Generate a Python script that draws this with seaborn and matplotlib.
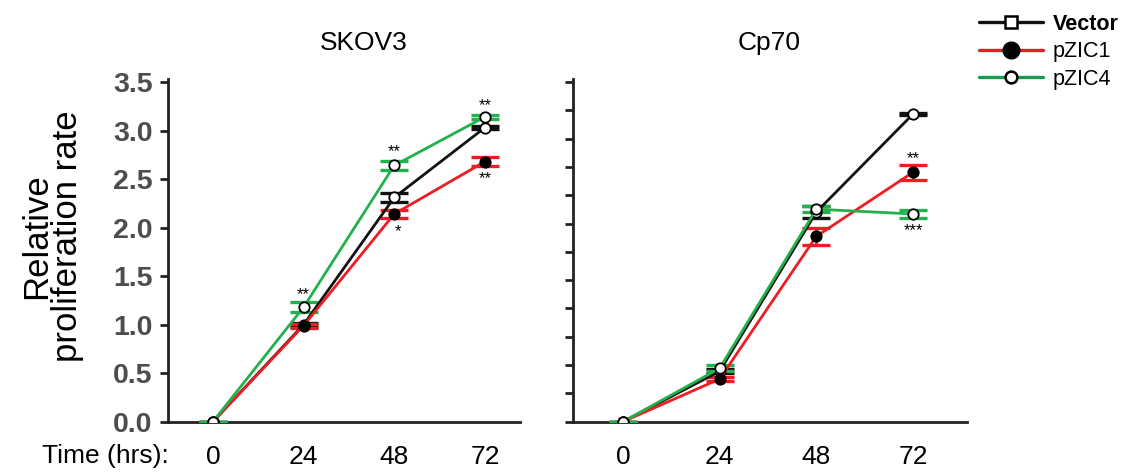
import numpy as np
import pandas as pd
import matplotlib
matplotlib.use("Agg")
import matplotlib.pyplot as plt
from matplotlib.lines import Line2D
import seaborn as sns

# ---------------- data ----------------
times = [0, 24, 48, 72]
groups = ["Vector", "pZIC1", "pZIC4"]
panels = ["SKOV3", "Cp70"]

skov3_vector = [0.0, 1.00, 2.31, 3.03]
skov3_pzic1 = [0.0, 0.99, 2.14, 2.68]
skov3_pzic4 = [0.0, 1.18, 2.64, 3.14]
skov3_vector_err = [0.0, 0.02, 0.05, 0.015]
skov3_pzic1_err = [0.0, 0.02, 0.04, 0.05]
skov3_pzic4_err = [0.0, 0.05, 0.05, 0.02]

cp70_vector = [0.0, 0.52, 2.16, 3.17]
cp70_pzic1 = [0.0, 0.44, 1.91, 2.57]
cp70_pzic4 = [0.0, 0.55, 2.19, 2.14]
cp70_vector_err = [0.0, 0.02, 0.06, 0.01]
cp70_pzic1_err = [0.0, 0.02, 0.09, 0.075]
cp70_pzic4_err = [0.0, 0.03, 0.03, 0.045]

# significance marks: (panel, time, y position, text)
sig_panel = ["SKOV3", "SKOV3", "SKOV3", "SKOV3", "SKOV3", "Cp70", "Cp70"]
sig_time = [24, 48, 49, 72, 72, 72, 72]
sig_y = [1.31, 2.78, 1.96, 3.26, 2.50, 2.71, 1.97]
sig_text = ["**", "**", "*", "**", "**", "**", "***"]

yticks = [0.0, 0.5, 1.0, 1.5, 2.0, 2.5, 3.0, 3.5]
xtick_labels = ["0", "24", "48", "72"]

rows = []
for panel, vals, errs in [
    ("SKOV3", [skov3_vector, skov3_pzic1, skov3_pzic4], [skov3_vector_err, skov3_pzic1_err, skov3_pzic4_err]),
    ("Cp70", [cp70_vector, cp70_pzic1, cp70_pzic4], [cp70_vector_err, cp70_pzic1_err, cp70_pzic4_err]),
]:
    for g, v, e in zip(groups, vals, errs):
        for t, vv, ee in zip(times, v, e):
            rows.append(dict(panel=panel, group=g, time=t, value=vv, err=ee))
df = pd.DataFrame(rows)

# ---------------- style ----------------
sns.set_theme(style="white")
plt.rcParams["font.family"] = ["Liberation Sans", "DejaVu Sans"]
plt.rcParams["text.color"] = "black"
plt.rcParams["xtick.color"] = "black"
plt.rcParams["ytick.color"] = "black"
plt.rcParams["axes.labelcolor"] = "black"

colors = {"Vector": "#111111", "pZIC1": "#ee1c24", "pZIC4": "#22b14c"}
face = {"Vector": "white", "pZIC1": "black", "pZIC4": "white"}

fig = plt.figure(figsize=(11.22, 4.73), dpi=100)
W, H = 1122, 473
ax_bottom = 1 - 421.7 / H
ax_h = (421.7 - 82) / H
axL = fig.add_axes([168 / W, ax_bottom, (520 - 168) / W, ax_h])
axR = fig.add_axes([573 / W, ax_bottom, (967 - 573) / W, ax_h])

xlims = {"SKOV3": (-11.9, 81.3), "Cp70": (-12.4, 85.4)}

for ax, panel in [(axL, "SKOV3"), (axR, "Cp70")]:
    sub = df[df.panel == panel]
    for z, g in enumerate(groups):
        d = sub[sub.group == g]
        ax.errorbar(d["time"], d["value"], yerr=d["err"], fmt="none",
                    ecolor=colors[g], elinewidth=2.0, capsize=10, capthick=2.4,
                    zorder=2 + z)
        sns.lineplot(data=d, x="time", y="value", ax=ax, color=colors[g],
                     linewidth=2.0, marker="o", markersize=7.5,
                     markerfacecolor=face[g], markeredgecolor="black",
                     markeredgewidth=1.3, errorbar=None, legend=False,
                     zorder=5 + z)
    ax.set_xlim(*xlims[panel])
    ax.set_ylim(0, 3.5)
    ax.set_xlabel("")
    ax.set_ylabel("")
    ax.set_xticks(times)
    ax.set_xticklabels(xtick_labels, fontsize=19, color="black")
    for s in ["top", "right"]:
        ax.spines[s].set_visible(False)
    for s in ["left", "bottom"]:
        ax.spines[s].set_color("#222222")
        ax.spines[s].set_linewidth(2.0)
    ax.spines["left"].set_bounds(0, 3.53)
    ax.tick_params(axis="x", length=0, pad=17)
    ax.tick_params(axis="y", direction="out", length=6, width=2.0,
                   color="#222222", left=True)
    ax.set_facecolor("none")
    ax.patch.set_alpha(0)

axL.set_yticks(yticks)
axL.set_yticklabels([f"{v:.1f}" for v in yticks], fontsize=20.5,
                    fontweight="bold", color="#4d4d4d")
axL.tick_params(axis="y", pad=5)
axR.set_yticks(np.linspace(0, 3.5, 13))
axR.set_yticklabels([])

for p, t, y, s in zip(sig_panel, sig_time, sig_y, sig_text):
    ax = axL if p == "SKOV3" else axR
    ax.text(t, y, s, ha="center", va="center", fontsize=12, color="black",
            zorder=10)

fig.text(364 / W, 1 - 43 / H, "SKOV3", ha="center", va="center", fontsize=19)
fig.text(769 / W, 1 - 43 / H, "Cp70", ha="center", va="center", fontsize=19)
fig.text(42 / W, 1 - 456 / H, "Time (hrs):", ha="left", va="center", fontsize=19)
fig.text(52 / W, 1 - 236 / H, "Relative\nproliferation rate", rotation=90,
         ha="center", va="center", fontsize=25, linespacing=0.95)

handles = [
    Line2D([], [], color=colors["Vector"], linewidth=2.4, marker="s",
           markersize=9, markerfacecolor="white", markeredgecolor="black",
           markeredgewidth=1.8),
    Line2D([], [], color=colors["pZIC1"], linewidth=2.4, marker="o",
           markersize=12, markerfacecolor="black", markeredgecolor="black"),
    Line2D([], [], color="#1a9a50", linewidth=2.4, marker="o",
           markersize=8.5, markerfacecolor="white", markeredgecolor="black",
           markeredgewidth=1.8),
]
leg = fig.legend(handles, groups, loc="upper left",
                 bbox_to_anchor=(970 / W, 1 - 5 / H), frameon=False,
                 fontsize=15.5, handlelength=3.0, handletextpad=0.45,
                 labelspacing=0.3, borderaxespad=0)
leg.get_texts()[0].set_fontweight("bold")

fig.savefig("out.png", dpi=100, facecolor="white")
